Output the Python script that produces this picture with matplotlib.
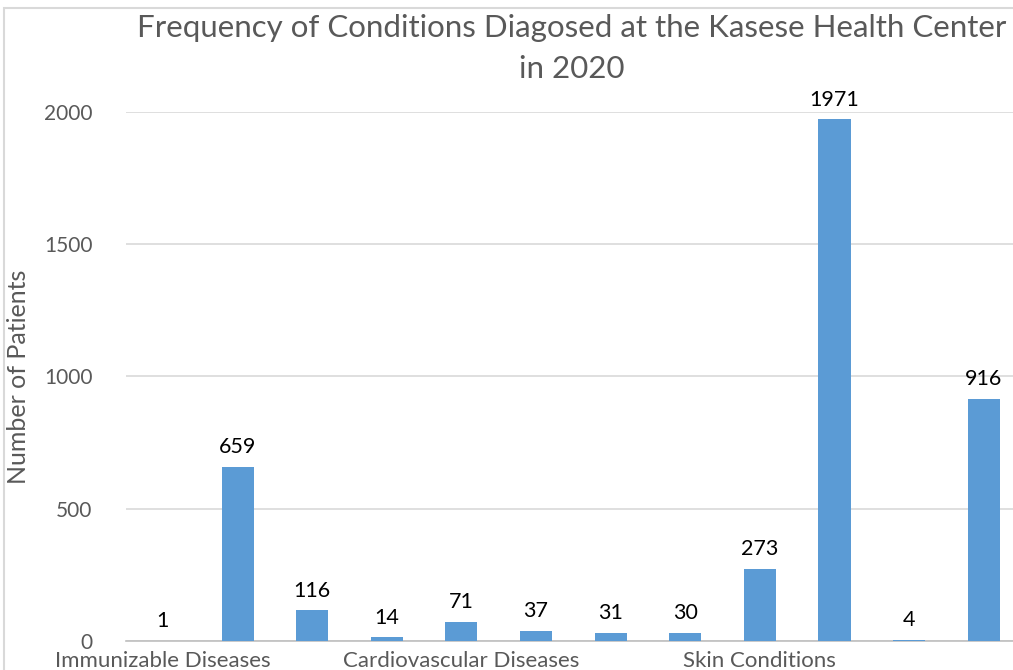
import numpy as np
import matplotlib.pyplot as plt
from matplotlib.patches import Rectangle

# Data
categories = ["Immunizable Diseases", "", "", "", "Cardiovascular Diseases", "", "", "",
              "Skin Conditions", "", "", ""]
counts = [1, 659, 116, 14, 71, 37, 31, 30, 273, 1971, 4, 916]
yticks = [0, 500, 1000, 1500, 2000]

plt.rcParams['font.family'] = ['Lato', 'DejaVu Sans']

fig = plt.figure(figsize=(10.13, 6.7), dpi=100)
ax = fig.add_axes([0.124, 0.0433, 0.884, 0.79])

x = np.arange(len(counts))
ax.bar(x, counts, width=0.43, color='#5b9bd5', zorder=3)

for xi, v in zip(x, counts):
    ax.annotate(str(v), (xi, v), xytext=(0, 7), textcoords='offset points',
                ha='center', va='bottom', fontsize=15.5, color='black', clip_on=False)

ax.set_xlim(-0.5, len(counts) - 0.5)
ax.set_ylim(0, 2000)
ax.set_yticks(yticks)
ax.set_yticklabels([str(t) for t in yticks], fontsize=15, color='#595959')
ax.set_xticks(x)
ax.set_xticklabels(categories, fontsize=16, color='#595959')
ax.tick_params(length=0)
ax.tick_params(axis='y', pad=24)
ax.tick_params(axis='x', pad=7)

ax.grid(axis='y', color='#d9d9d9', linewidth=1.2, zorder=0)
for s in ['top', 'right', 'left']:
    ax.spines[s].set_visible(False)
ax.spines['bottom'].set_color('#bfbfbf')
ax.spines['bottom'].set_linewidth(1.2)

ax.set_ylabel('Number of Patients', fontsize=18, color='#595959')
ax.yaxis.set_label_coords(-0.107, 0.5)

fig.text(0.5647, 0.958, 'Frequency of Conditions Diagosed at the Kasese Health Center',
         ha='center', va='center', fontsize=22.5, color='#595959')
fig.text(0.5647, 0.897, 'in 2020', ha='center', va='center', fontsize=22.5, color='#595959')

# outer chart border
fig.patches.append(Rectangle((0.004, -0.01), 1.2, 0.998, transform=fig.transFigure,
                             fill=False, edgecolor='#d9d9d9', linewidth=1.5))

fig.savefig('out.png', dpi=100)
